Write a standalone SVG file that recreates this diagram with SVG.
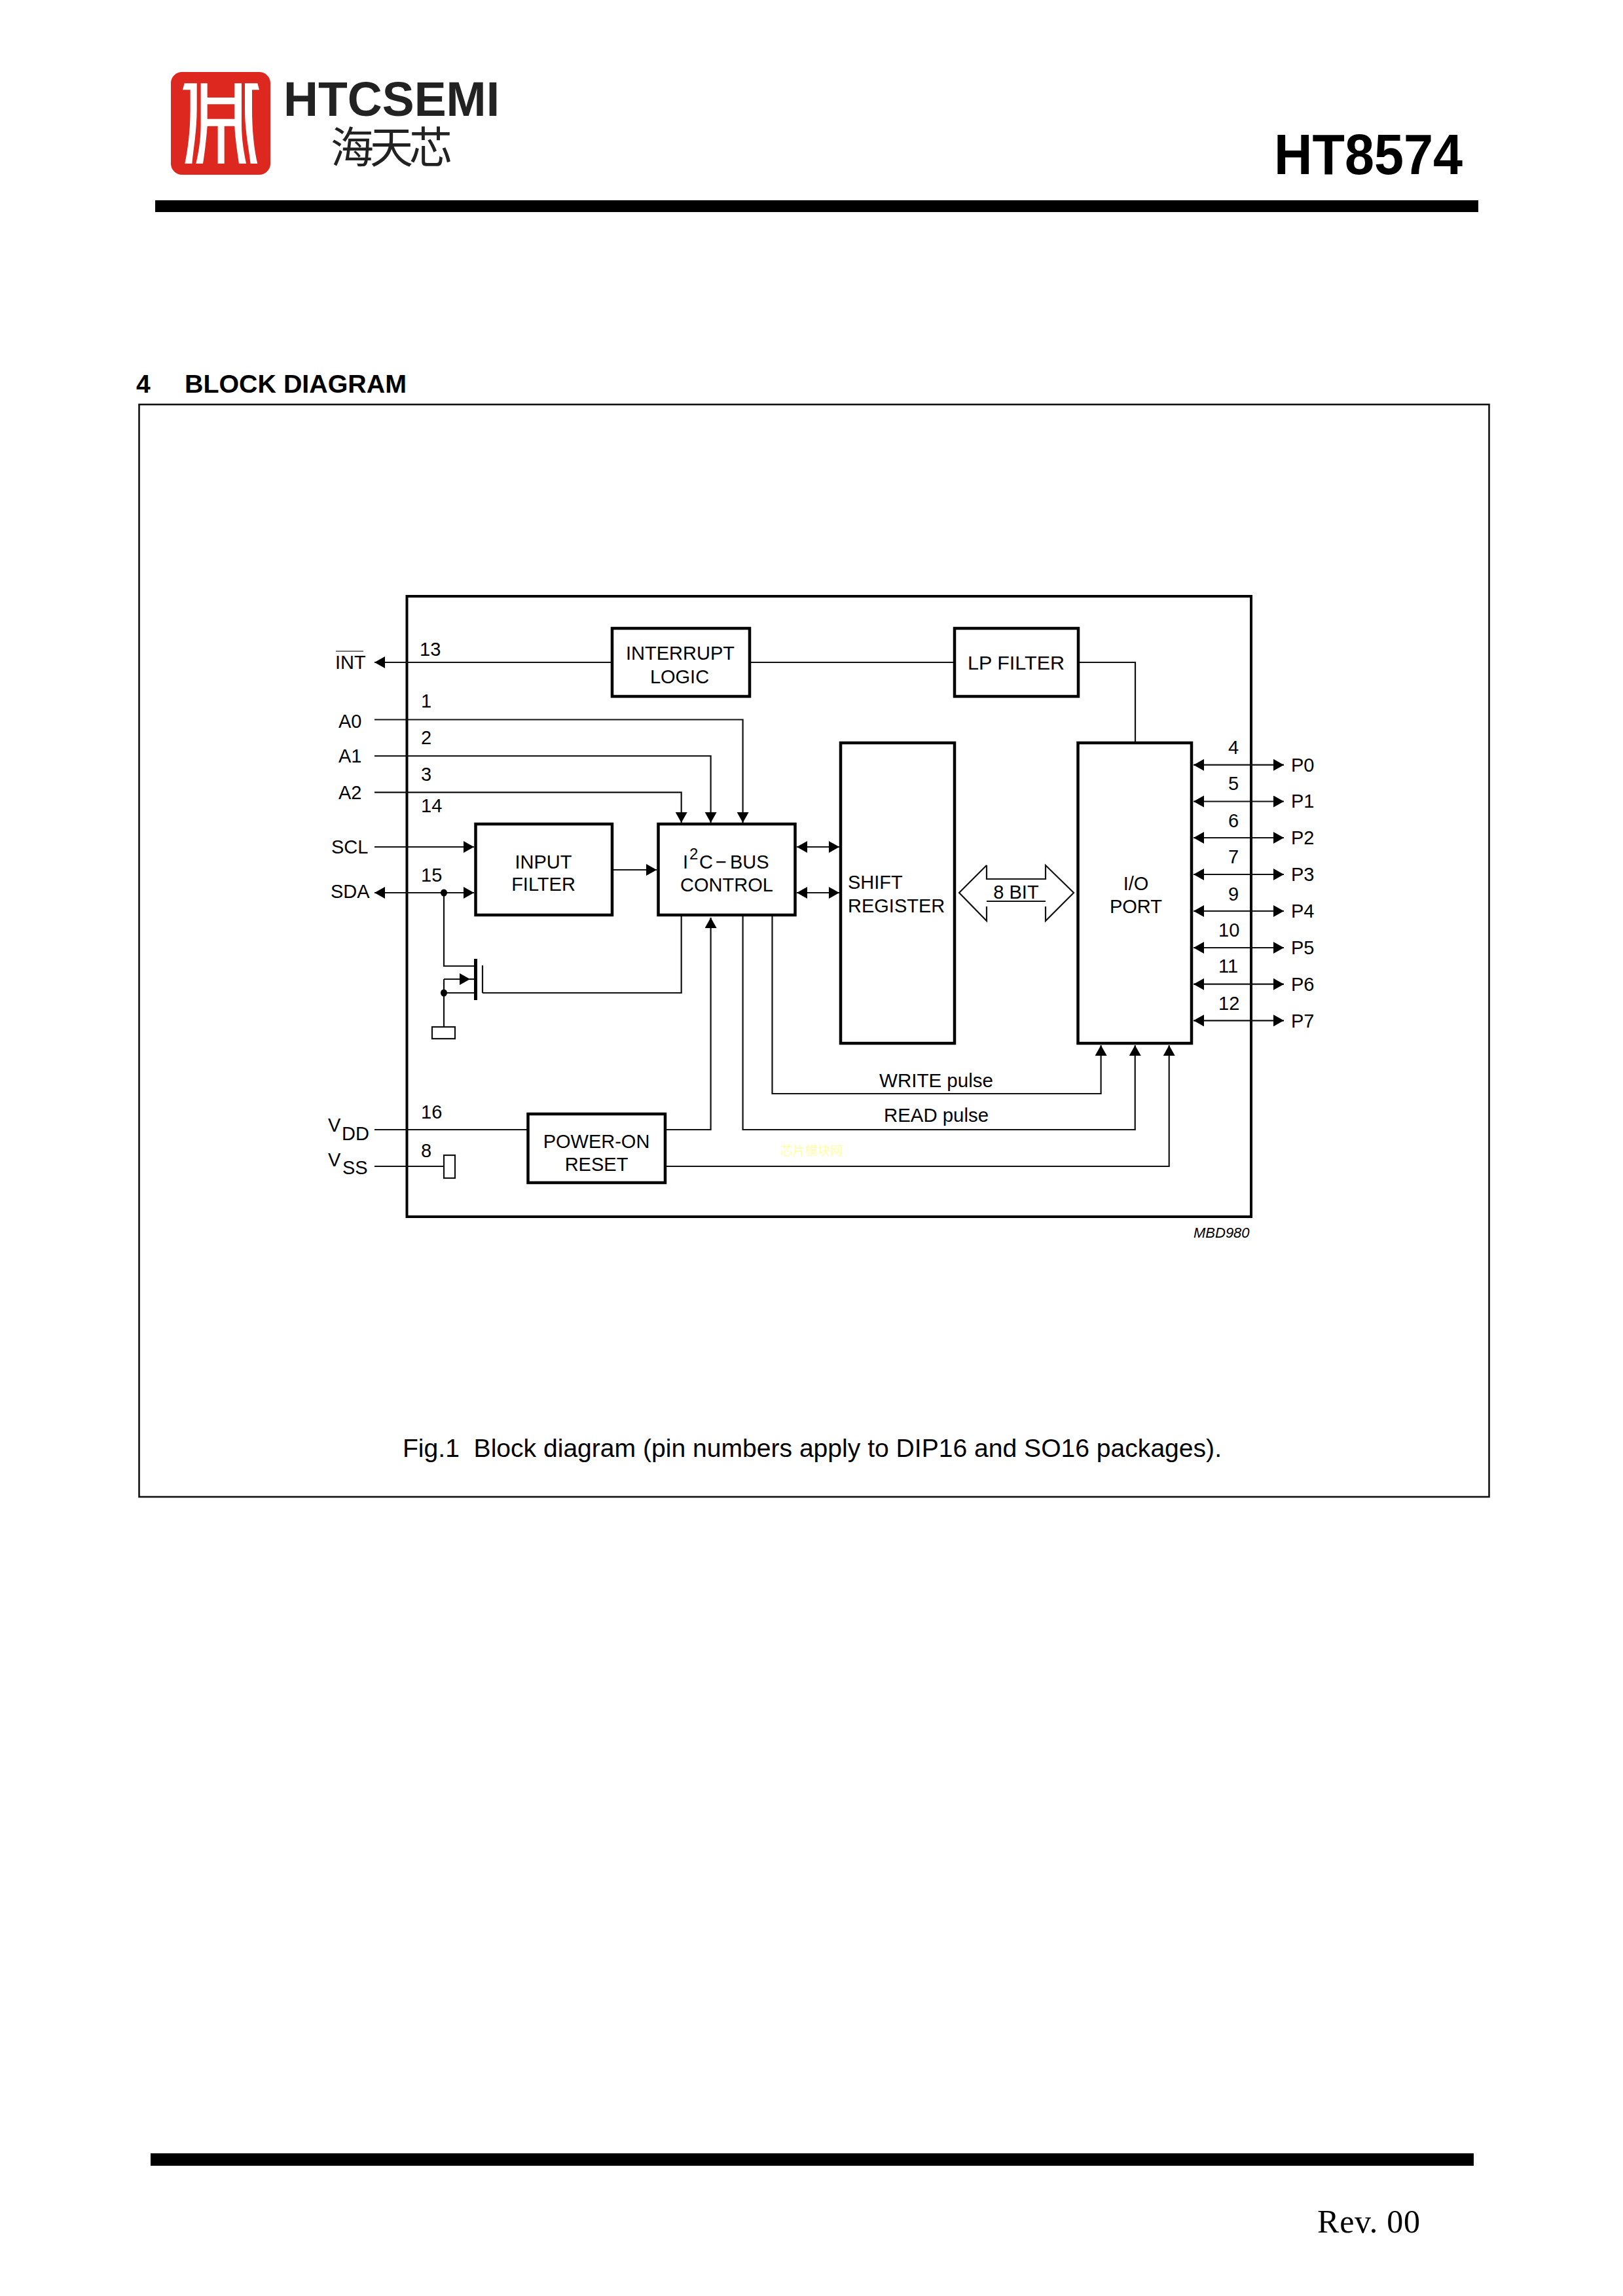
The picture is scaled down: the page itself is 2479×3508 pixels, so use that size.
<svg xmlns="http://www.w3.org/2000/svg" width="2479" height="3508" viewBox="0 0 2479 3508">
<style>
text{font-family:"Liberation Sans",Arial,sans-serif;fill:#000}
.t{font-size:29px}
.m{text-anchor:middle}
.b{fill:#fff;stroke:#000;stroke-width:4.5}
.l{fill:none;stroke:#111;stroke-width:2.2}
.a{marker-end:url(#ah)}
.d{marker-start:url(#ah);marker-end:url(#ah)}
.s{fill:#fff;stroke:#111;stroke-width:2.2}
.dot{fill:#000}
</style>
<defs>
<marker id="ah" markerUnits="userSpaceOnUse" markerWidth="17" markerHeight="19" refX="16" refY="9" orient="auto-start-reverse"><path d="M0 0L16 9L0 18Z" fill="#000"/></marker>
</defs>
<rect width="2479" height="3508" fill="#fff"/>
<g id="logo">
<rect x="261" y="110" width="152" height="157" rx="17" fill="#dd2820"/>
<g transform="translate(250 100) scale(.33333)" fill="#fff">
<path d="M87 112L95 82H152V200C152 300 135 390 130 450H97C110 390 122 300 122 200V112Z"/>
<path d="M438 112L430 82H372V200C372 300 392 390 398 450H430C415 390 405 300 405 200V112Z"/>
<path fill-rule="evenodd" d="M170 82H200V147H325V82H357V270C357 340 368 400 378 450H345C338 400 328 340 325 278H278V450H248V278H200C195 340 188 400 180 450H148C160 400 170 340 170 270ZM200 178H325V245H200Z"/>
</g>
<text x="433" y="177" font-size="75" font-weight="700" textLength="330" lengthAdjust="spacingAndGlyphs" style="fill:#222">HTCSEMI</text>
<text x="505" y="249" font-size="66" textLength="186" style="font-family:'Noto Sans CJK SC','Liberation Sans',sans-serif;fill:#222">海天芯</text>
</g>
<text id="title" x="1946" y="266" font-size="88" font-weight="700" textLength="288" lengthAdjust="spacingAndGlyphs">HT8574</text>
<rect id="header-rule" x="237" y="306" width="2021" height="18" fill="#000"/>
<text id="section-num" x="208" y="600" font-size="39" font-weight="700">4</text>
<text id="section-title" x="282" y="600" font-size="39" font-weight="700" textLength="339" lengthAdjust="spacingAndGlyphs">BLOCK DIAGRAM</text>
<rect id="frame" x="212.5" y="618" width="2062" height="1669" fill="none" stroke="#111" stroke-width="2.6"/>
<rect id="chip" x="621.5" y="911" width="1289.5" height="948" fill="none" stroke="#000" stroke-width="4"/>

<g id="connectors">
<path class="l a" d="M935 1012H572"/>
<path class="l" d="M1145 1012H1458"/>
<path class="l" d="M1647 1012H1734V1135"/>
<path class="l a" d="M572 1099.5H1134.6V1257"/>
<path class="l a" d="M572 1155H1085.6V1257"/>
<path class="l a" d="M572 1210.7H1040.7V1257"/>
<path class="l a" d="M572 1294H724"/>
<path class="l d" d="M572 1364H724"/>
<path class="l a" d="M935 1329H1003"/>
<path class="l d" d="M1217 1294H1282"/>
<path class="l d" d="M1217 1364H1282"/>
<path class="l" d="M678 1364V1476H726"/>
<path class="l" d="M678 1517H726"/>
<path class="l" d="M678 1496V1569"/>
<path class="l a" d="M678 1496H718"/>
<path class="l" d="M718 1496H726"/>
<path class="l" d="M737 1517H1040.7V1398"/>
<path class="l a" d="M1016 1726H1085.6V1402"/>
<path class="l" d="M572 1726H806"/>
<path class="l" d="M572 1782H678"/>
<path class="l a" d="M1016 1782H1785.7V1597"/>
<path class="l a" d="M1134.6 1398V1726H1733.7V1597"/>
<path class="l a" d="M1179.5 1398V1671H1681.6V1597"/>
<path class="l d" d="M1823 1168.7H1961"/>
<path class="l d" d="M1823 1224.5H1961"/>
<path class="l d" d="M1823 1280H1961"/>
<path class="l d" d="M1823 1336H1961"/>
<path class="l d" d="M1823 1392H1961"/>
<path class="l d" d="M1823 1448H1961"/>
<path class="l d" d="M1823 1503.7H1961"/>
<path class="l d" d="M1823 1559.3H1961"/>
<path class="l" d="M1507 1322L1465 1364L1507 1407V1385M1507 1322V1343H1597V1322L1640 1364L1597 1407V1385M1507 1377H1597"/>
</g>

<g id="interrupt-logic"><rect class="b" x="935" y="960" width="210" height="104"/><text class="t m" x="1039" y="1008">INTERRUPT</text><text class="t m" x="1038" y="1044">LOGIC</text></g>
<g id="lp-filter"><rect class="b" x="1458" y="960" width="189" height="104"/><text class="t m" x="1552" y="1023" textLength="148" lengthAdjust="spacingAndGlyphs">LP FILTER</text></g>
<g id="input-filter"><rect class="b" x="726.5" y="1259" width="208.5" height="139"/><text class="t m" x="830" y="1327">INPUT</text><text class="t m" x="830" y="1361">FILTER</text></g>
<g id="i2c-control"><rect class="b" x="1005.5" y="1259" width="209" height="139"/><text class="t" x="1043" y="1327">I<tspan x="1053" dy="-14" font-size="24">2</tspan><tspan x="1068" dy="14">C</tspan><tspan x="1093">−</tspan><tspan x="1115">BUS</tspan></text><text class="t m" x="1110" y="1362">CONTROL</text></g>
<g id="shift-register"><rect class="b" x="1284" y="1135" width="174" height="459"/><text class="t" x="1295" y="1358">SHIFT</text><text class="t" x="1295" y="1394">REGISTER</text></g>
<g id="io-port"><rect class="b" x="1646.5" y="1135" width="173.5" height="459"/><text class="t m" x="1735" y="1360">I/O</text><text class="t m" x="1735" y="1395">PORT</text></g>
<g id="power-on-reset"><rect class="b" x="806.5" y="1702" width="209.5" height="105"/><text class="t m" x="911" y="1754">POWER-ON</text><text class="t m" x="911" y="1789">RESET</text></g>

<g id="transistor">
<rect x="724" y="1465" width="5" height="63" fill="#000"/>
<path class="l" d="M737 1475V1517"/>
<ellipse class="dot" cx="678" cy="1364" rx="5" ry="5.5"/>
<ellipse class="dot" cx="678" cy="1517" rx="5" ry="5.5"/>
<rect class="s" x="660" y="1569" width="35" height="18"/>
<rect class="s" x="678" y="1765" width="17" height="35"/>
</g>

<g id="bus-label"><text class="t m" x="1552" y="1373">8 BIT</text></g>

<g id="pin-labels">
<text class="t" x="512" y="1022">INT</text><rect x="513" y="994" width="42" height="2" fill="#777"/>
<text class="t" x="517" y="1112">A0</text>
<text class="t" x="517" y="1165">A1</text>
<text class="t" x="517" y="1221">A2</text>
<text class="t" x="506" y="1304">SCL</text>
<text class="t" x="505" y="1372">SDA</text>
<text class="t" x="501" y="1729">V</text><text class="t" x="522" y="1742">DD</text>
<text class="t" x="501" y="1782">V</text><text class="t" x="523" y="1794">SS</text>
<text class="t" x="641" y="1002">13</text>
<text class="t" x="643" y="1081">1</text>
<text class="t" x="643" y="1137">2</text>
<text class="t" x="643" y="1193">3</text>
<text class="t" x="643" y="1241">14</text>
<text class="t" x="643" y="1347">15</text>
<text class="t" x="643" y="1709">16</text>
<text class="t" x="643" y="1768">8</text>
<text class="t" x="1876" y="1152">4</text>
<text class="t" x="1876" y="1207">5</text>
<text class="t" x="1876" y="1264">6</text>
<text class="t" x="1876" y="1319">7</text>
<text class="t" x="1876" y="1376">9</text>
<text class="t" x="1861" y="1431">10</text>
<text class="t" x="1861" y="1486">11</text>
<text class="t" x="1861" y="1543">12</text>
<text class="t" x="1972" y="1179">P0</text>
<text class="t" x="1972" y="1234">P1</text>
<text class="t" x="1972" y="1290">P2</text>
<text class="t" x="1972" y="1346">P3</text>
<text class="t" x="1972" y="1402">P4</text>
<text class="t" x="1972" y="1458">P5</text>
<text class="t" x="1972" y="1514">P6</text>
<text class="t" x="1972" y="1570">P7</text>
<text class="t" x="1343" y="1661" textLength="174" lengthAdjust="spacingAndGlyphs">WRITE pulse</text>
<text class="t" x="1350" y="1714" textLength="160" lengthAdjust="spacingAndGlyphs">READ pulse</text>
<text x="1192" y="1765" font-size="19" style="font-family:'Noto Sans CJK SC','Liberation Sans',sans-serif;fill:#ffffa8">芯片模块网</text>
<text x="1823" y="1891" font-size="22" font-style="italic">MBD980</text>
</g>

<text id="caption" x="615" y="2226" font-size="38" xml:space="preserve" textLength="1251" lengthAdjust="spacingAndGlyphs">Fig.1  Block diagram (pin numbers apply to DIP16 and SO16 packages).</text>
<rect id="footer-rule" x="230" y="3290" width="2021" height="19" fill="#000"/>
<text id="revision" x="2012" y="3411" font-size="50" textLength="157" style="font-family:'Liberation Serif','Times New Roman',serif">Rev. 00</text>
</svg>
